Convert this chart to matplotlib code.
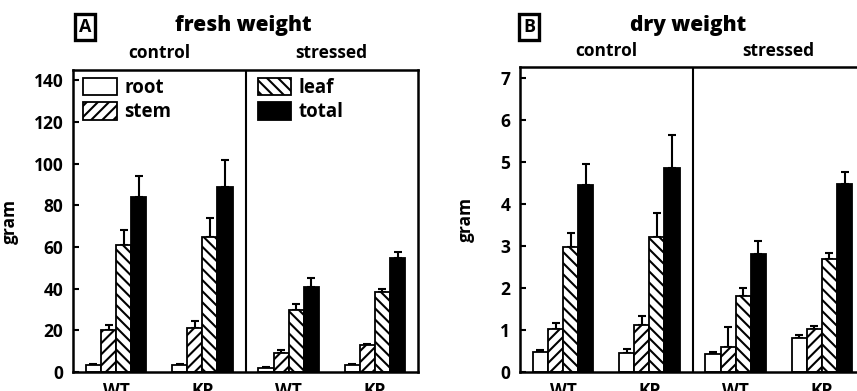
import numpy as np
import matplotlib.pyplot as plt

plt.rcParams['font.family'] = ['Open Sans', 'DejaVu Sans']
plt.rcParams['hatch.linewidth'] = 1.5

# groups and parts
groups = ['WT', 'KP', 'WT', 'KP']
parts = ['root', 'stem', 'leaf', 'total']

# fresh weight (control WT, control KP, stressed WT, stressed KP)
fresh_root = [3.5, 3.2, 2.0, 3.5]
fresh_stem = [20, 21, 9, 13]
fresh_leaf = [61, 65, 30, 38.5]
fresh_total = [84, 89, 41, 54.5]
fresh_root_err = [0.5, 0.5, 0.5, 0.5]
fresh_stem_err = [2.5, 3.5, 1.5, 0.5]
fresh_leaf_err = [7, 9, 2.5, 1.5]
fresh_total_err = [10, 13, 4, 3]

# dry weight
dry_root = [0.48, 0.46, 0.43, 0.80]
dry_stem = [1.02, 1.12, 0.60, 1.02]
dry_leaf = [2.97, 3.22, 1.82, 2.70]
dry_total = [4.45, 4.85, 2.82, 4.47]
dry_root_err = [0.04, 0.08, 0.05, 0.08]
dry_stem_err = [0.14, 0.21, 0.47, 0.07]
dry_leaf_err = [0.33, 0.56, 0.18, 0.13]
dry_total_err = [0.50, 0.80, 0.30, 0.30]

fig = plt.figure(figsize=(8.57, 3.91), dpi=100)

styles = [dict(color='white', hatch=None),
          dict(color='white', hatch='///'),
          dict(color='white', hatch='\\\\\\'),
          dict(color='black', hatch=None)]


def panel(rect, vals, errs, ymax, yticks, letter, title, letter_x, title_x, title_y,
          sub_y, with_legend):
    ax = fig.add_axes(rect)
    x = np.arange(len(groups))
    w = 0.175
    handles = []
    for i, (v, e, st) in enumerate(zip(vals, errs, styles)):
        pos = x + (i - 1.5) * w
        b = ax.bar(pos, v, w, facecolor=st['color'], edgecolor='black',
                   hatch=st['hatch'], linewidth=1.3, label=parts[i], zorder=2)
        handles.append(b)
        ax.errorbar(pos, v, yerr=[np.zeros(len(e)), e], fmt='none', ecolor='black',
                    elinewidth=1.5, capsize=3, capthick=1.5, zorder=1)
    ax.set_xlim(-0.5, 3.5)
    ax.set_ylim(0, ymax)
    ax.axvline(1.5, color='black', lw=1.5)
    ax.set_yticks(yticks)
    ax.set_yticklabels([str(t) for t in yticks], fontweight='bold', fontsize=12.5)
    ax.set_xticks(x)
    ax.set_xticklabels(groups, fontweight='bold', fontsize=12.5)
    ax.tick_params(axis='y', direction='in', length=4, width=1.5, pad=7)
    ax.tick_params(axis='x', length=0, pad=7)
    for s in ax.spines.values():
        s.set_linewidth(1.8)
    ax.set_ylabel('gram', fontsize=12.5, fontweight='bold')
    ax.text(0.25, sub_y, 'control', transform=ax.transAxes, ha='center', va='center',
            fontsize=12.5, fontweight='bold')
    ax.text(0.75, sub_y, 'stressed', transform=ax.transAxes, ha='center', va='center',
            fontsize=12.5, fontweight='bold')
    fig.text(title_x / 857, 1 - title_y / 391, title, ha='center', va='center',
             fontsize=15, fontweight='heavy')
    fig.text(letter_x / 857, 1 - 27 / 391, letter, ha='center', va='center',
             fontsize=13, fontweight='bold',
             bbox=dict(boxstyle='square,pad=0.22', fc='white', ec='black', lw=2.4))
    if with_legend:
        kw = dict(frameon=False, prop=dict(size=13.5, weight='bold'),
                  handlelength=1.8, handleheight=1.05,
                  handletextpad=0.4, labelspacing=0.25, borderpad=0, borderaxespad=0)
        leg1 = ax.legend(handles[:2], parts[:2], loc='upper left',
                         bbox_to_anchor=(0.029, 0.975), **kw)
        ax.add_artist(leg1)
        ax.legend(handles[2:], parts[2:], loc='upper left',
                  bbox_to_anchor=(0.535, 0.975), **kw)
    return ax


axA = panel([73 / 857, 19 / 391, 345 / 857, 302 / 391],
            [fresh_root, fresh_stem, fresh_leaf, fresh_total],
            [fresh_root_err, fresh_stem_err, fresh_leaf_err, fresh_total_err],
            145, [0, 20, 40, 60, 80, 100, 120, 140], 'A', 'fresh weight', 85, 243, 26,
            1.056, True)
axA.yaxis.set_label_coords(-0.157, 0.5)

axB = panel([520 / 857, 19 / 391, 345 / 857, 305 / 391],
            [dry_root, dry_stem, dry_leaf, dry_total],
            [dry_root_err, dry_stem_err, dry_leaf_err, dry_total_err],
            7.26, [0, 1, 2, 3, 4, 5, 6, 7], 'B', 'dry weight', 529, 688, 25,
            1.052, False)
axB.yaxis.set_label_coords(-0.13, 0.5)

fig.savefig('out.png', dpi=100)
